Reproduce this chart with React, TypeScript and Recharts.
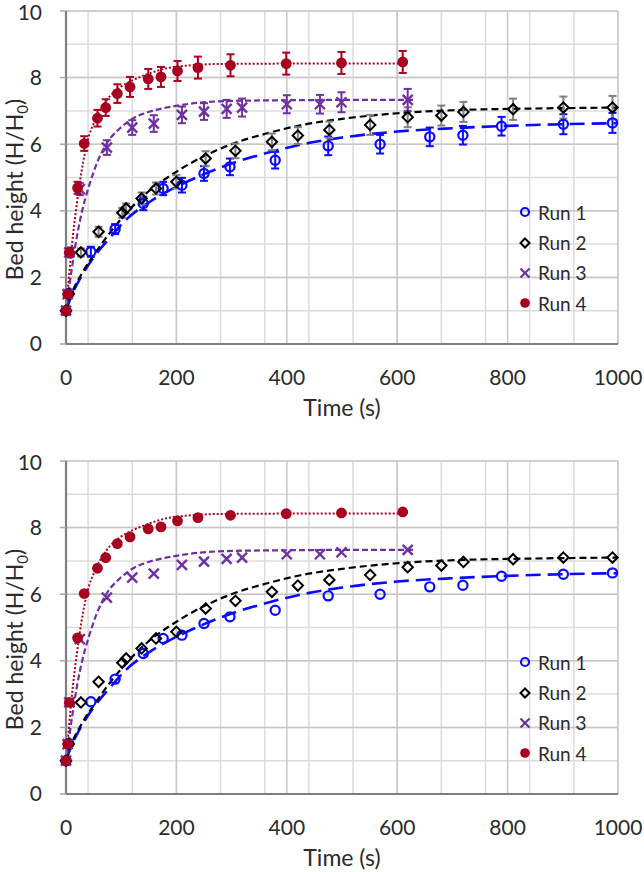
import {
  ComposedChart,
  Scatter,
  Line,
  XAxis,
  YAxis,
  CartesianGrid,
  ErrorBar,
  Label,
  Legend,
} from "recharts";

const FONT = "Lato, 'Open Sans', sans-serif";
const INK = "#2b2b2b";

const BLUE = "#0a0aff";
const BLACK = "#000000";
const PURPLE = "#7030a0";
const RED = "#a8001f";

const runNames = ["Run 1", "Run 2", "Run 3", "Run 4"];

// measured bed heights, time in seconds
const run1Time = [0, 5, 45, 89, 140, 176, 210, 250, 297, 379, 475, 569, 659, 719, 789, 901, 990];
const run1Height = [1.0, 1.52, 2.77, 3.45, 4.22, 4.67, 4.77, 5.12, 5.32, 5.52, 5.95, 6.0, 6.22, 6.27, 6.54, 6.6, 6.64];
const run1Err = [0.05, 0.1, 0.15, 0.15, 0.2, 0.2, 0.22, 0.22, 0.25, 0.25, 0.28, 0.28, 0.28, 0.28, 0.28, 0.3, 0.3];

const run2Time = [0, 5, 27, 59, 102, 109, 137, 163, 200, 253, 307, 373, 420, 477, 551, 619, 680, 720, 810, 901, 990];
const run2Height = [1.0, 1.5, 2.75, 3.37, 3.94, 4.07, 4.37, 4.67, 4.87, 5.57, 5.8, 6.07, 6.26, 6.43, 6.58, 6.81, 6.86, 6.97, 7.05, 7.1, 7.1];
const run2Err = [0.05, 0.1, 0.12, 0.15, 0.15, 0.15, 0.18, 0.18, 0.2, 0.22, 0.22, 0.25, 0.25, 0.25, 0.3, 0.3, 0.3, 0.3, 0.32, 0.33, 0.35];

const run3Time = [0, 3, 6, 25, 74, 120, 159, 210, 250, 291, 319, 400, 460, 499, 619];
const run3Height = [1.0, 1.5, 2.75, 4.65, 5.9, 6.5, 6.62, 6.88, 6.98, 7.06, 7.1, 7.2, 7.2, 7.26, 7.33];
const run3Err = [0.05, 0.1, 0.15, 0.18, 0.22, 0.22, 0.25, 0.25, 0.25, 0.27, 0.27, 0.27, 0.28, 0.3, 0.33];

const run4Time = [0, 3, 6, 21, 33, 57, 72, 93, 116, 149, 172, 202, 239, 298, 399, 499, 610];
const run4Height = [1.0, 1.5, 2.75, 4.69, 6.02, 6.78, 7.1, 7.52, 7.72, 7.96, 8.02, 8.2, 8.3, 8.37, 8.42, 8.44, 8.47];
const run4Err = [0.05, 0.1, 0.12, 0.18, 0.22, 0.25, 0.25, 0.28, 0.3, 0.3, 0.3, 0.3, 0.33, 0.33, 0.33, 0.33, 0.33];

// fitted model curves
const fit1Time = [0, 10, 25, 50, 80, 110, 150, 200, 250, 300, 360, 420, 500, 600, 700, 800, 900, 1000];
const fit1Height = [1.0, 1.45, 1.95, 2.6, 3.2, 3.75, 4.25, 4.72, 5.1, 5.42, 5.72, 5.97, 6.2, 6.38, 6.48, 6.55, 6.6, 6.63];

const fit2Time = [0, 10, 30, 55, 80, 105, 145, 195, 245, 300, 365, 425, 500, 600, 720, 840, 1000];
const fit2Height = [1.0, 1.5, 2.15, 2.78, 3.35, 3.85, 4.52, 5.12, 5.6, 6.0, 6.33, 6.57, 6.76, 6.93, 7.03, 7.07, 7.1];

const fit3Time = [0, 10, 20, 30, 40, 56, 74, 98, 122, 152, 200, 243, 303, 400, 500, 630];
const fit3Height = [1.0, 2.2, 3.25, 4.05, 4.65, 5.43, 6.03, 6.48, 6.78, 6.98, 7.15, 7.25, 7.3, 7.32, 7.33, 7.33];

const fit4Time = [0, 5, 10, 15, 20, 25, 37, 56, 74, 98, 122, 152, 182, 219, 283, 400, 500, 615];
const fit4Height = [1.0, 1.95, 2.85, 3.6, 4.25, 4.85, 5.95, 6.83, 7.33, 7.71, 7.93, 8.13, 8.28, 8.36, 8.41, 8.42, 8.42, 8.42];

const xTicks = [0, 200, 400, 600, 800, 1000];
const yTicks = [0, 2, 4, 6, 8, 10];
const xMinor = [0, 40, 80, 120, 160, 200, 240, 280, 320, 360, 400, 440, 480, 520, 560, 600, 640, 680, 720, 760, 800, 840, 880, 920, 960, 1000];
const yMinor = [0, 1, 2, 3, 4, 5, 6, 7, 8, 9, 10];

const toPoints = (time: number[], height: number[], err?: number[]) =>
  time.map((t, i) => ({ t, y: height[i], err: err ? err[i] : 0 }));

const run1 = toPoints(run1Time, run1Height, run1Err);
const run2 = toPoints(run2Time, run2Height, run2Err);
const run3 = toPoints(run3Time, run3Height, run3Err);
const run4 = toPoints(run4Time, run4Height, run4Err);
const fit1 = toPoints(fit1Time, fit1Height);
const fit2 = toPoints(fit2Time, fit2Height);
const fit3 = toPoints(fit3Time, fit3Height);
const fit4 = toPoints(fit4Time, fit4Height);

// marker shapes
const OpenCircle = ({ cx, cy }: any) => (
  <circle cx={cx} cy={cy} r={4.6} fill="none" stroke={BLUE} strokeWidth={2.2} />
);
const OpenDiamond = ({ cx, cy }: any) => (
  <path
    d={`M${cx},${cy - 5.2}L${cx + 5.2},${cy}L${cx},${cy + 5.2}L${cx - 5.2},${cy}Z`}
    fill="none"
    stroke={BLACK}
    strokeWidth={2}
  />
);
const Cross = ({ cx, cy }: any) => (
  <g stroke={PURPLE} strokeWidth={2.4}>
    <line x1={cx - 5} y1={cy - 5} x2={cx + 5} y2={cy + 5} />
    <line x1={cx - 5} y1={cy + 5} x2={cx + 5} y2={cy - 5} />
  </g>
);
const FilledDot = ({ cx, cy }: any) => <circle cx={cx} cy={cy} r={5.4} fill={RED} />;

const legendIcons = [
  <circle key="a" cx={8} cy={8} r={4} fill="none" stroke={BLUE} strokeWidth={2.2} />,
  <path key="b" d="M8,3.5L12.5,8L8,12.5L3.5,8Z" fill="none" stroke={BLACK} strokeWidth={2} />,
  <g key="c" stroke={PURPLE} strokeWidth={2.2}>
    <line x1={3.5} y1={3.5} x2={12.5} y2={12.5} />
    <line x1={3.5} y1={12.5} x2={12.5} y2={3.5} />
  </g>,
  <circle key="d" cx={8} cy={8} r={4.8} fill={RED} />,
];

const RunLegend = () => (
  <div style={{ fontFamily: FONT, fontSize: 19, color: INK }}>
    {runNames.map((name, i) => (
      <div key={name} style={{ display: "flex", alignItems: "center", height: 30.4 }}>
        <svg width={16} height={16}>{legendIcons[i]}</svg>
        <span style={{ marginLeft: 5 }}>{name}</span>
      </div>
    ))}
  </div>
);

const XTitle = ({ viewBox }: any) => (
  <text
    x={viewBox.x + viewBox.width / 2}
    y={viewBox.y + 72}
    textAnchor="middle"
    fontFamily={FONT}
    fontSize={23}
    fill={INK}
  >
    Time (s)
  </text>
);

const YTitle = ({ viewBox }: any) => (
  <text
    transform={`translate(23, ${viewBox.y + viewBox.height / 2 + 12}) rotate(-90)`}
    textAnchor="middle"
    fontFamily={FONT}
    fontSize={23}
    fill={INK}
  >
    Bed height (H/H
    <tspan fontSize={15} dy={5}>0</tspan>
    <tspan dy={-5}>)</tspan>
  </text>
);

function Panel({ showErrors }: { showErrors: boolean }) {
  const tickStyle = { fontSize: 21, fill: INK, fontFamily: FONT };
  return (
    <ComposedChart width={644} height={430} margin={{ top: 11, right: 26, left: 0, bottom: 0 }}>
      {/* minor grid every 1 unit / 40 s, stronger lines at the labelled ticks */}
      <CartesianGrid stroke="#dcdcdc" strokeWidth={1.5} horizontalValues={yMinor} verticalValues={xMinor} />
      <CartesianGrid stroke="#c8c8c8" strokeWidth={1.5} horizontalValues={yTicks} verticalValues={xTicks} />

      <XAxis
        type="number"
        dataKey="t"
        domain={[0, 1000]}
        ticks={xTicks}
        tickLine={false}
        tickMargin={20}
        tick={tickStyle}
        axisLine={{ stroke: "#7f7f7f", strokeWidth: 2.2 }}
        height={86}
      >
        <Label content={XTitle} />
      </XAxis>
      <YAxis
        type="number"
        dataKey="y"
        domain={[0, 10]}
        ticks={yTicks}
        tickSize={6}
        tickMargin={18}
        tickLine={{ stroke: "#a6a6a6", strokeWidth: 1.5 }}
        tick={tickStyle}
        axisLine={{ stroke: "#7f7f7f", strokeWidth: 2.2 }}
        width={66}
      >
        <Label content={YTitle} />
      </YAxis>
      <XAxis
        xAxisId="frame"
        orientation="top"
        type="number"
        domain={[0, 1000]}
        height={0}
        tick={false}
        tickLine={false}
        axisLine={{ stroke: "#000", strokeWidth: 2 }}
      />
      <YAxis
        yAxisId="frame"
        orientation="right"
        type="number"
        domain={[0, 10]}
        width={0}
        tick={false}
        tickLine={false}
        axisLine={{ stroke: "#000", strokeWidth: 2 }}
      />

      <Line data={fit1} dataKey="y" type="monotone" stroke={BLUE} strokeWidth={2.6} strokeDasharray="15 7" dot={false} activeDot={false} legendType="none" isAnimationActive={false} />
      <Line data={fit2} dataKey="y" type="monotone" stroke={BLACK} strokeWidth={2.2} strokeDasharray="7 4" dot={false} activeDot={false} legendType="none" isAnimationActive={false} />
      <Line data={fit3} dataKey="y" type="monotone" stroke={PURPLE} strokeWidth={2.2} strokeDasharray="6 3" dot={false} activeDot={false} legendType="none" isAnimationActive={false} />
      <Line data={fit4} dataKey="y" type="monotone" stroke={RED} strokeWidth={2} strokeDasharray="2 2" dot={false} activeDot={false} legendType="none" isAnimationActive={false} />

      <Scatter data={run1} shape={OpenCircle} legendType="none" isAnimationActive={false}>
        {showErrors && <ErrorBar dataKey="err" direction="y" width={4} stroke={BLUE} strokeWidth={2} />}
      </Scatter>
      <Scatter data={run2} shape={OpenDiamond} legendType="none" isAnimationActive={false}>
        {showErrors && <ErrorBar dataKey="err" direction="y" width={4} stroke="#7f7f7f" strokeWidth={2} />}
      </Scatter>
      <Scatter data={run3} shape={Cross} legendType="none" isAnimationActive={false}>
        {showErrors && <ErrorBar dataKey="err" direction="y" width={4} stroke={PURPLE} strokeWidth={2} />}
      </Scatter>
      <Scatter data={run4} shape={FilledDot} legendType="none" isAnimationActive={false}>
        {showErrors && <ErrorBar dataKey="err" direction="y" width={4} stroke={RED} strokeWidth={2} />}
      </Scatter>

      <Legend
        layout="horizontal"
        verticalAlign="middle"
        align="center"
        content={RunLegend}
        wrapperStyle={{ left: 517, top: 197, width: 110 }}
      />
    </ComposedChart>
  );
}

export default function App() {
  return (
    <div style={{ position: "absolute", left: 0, top: 0, width: 644, height: 872, background: "#fff" }}>
      <Panel showErrors={true} />
      <div style={{ height: 20 }} />
      <Panel showErrors={false} />
    </div>
  );
}
